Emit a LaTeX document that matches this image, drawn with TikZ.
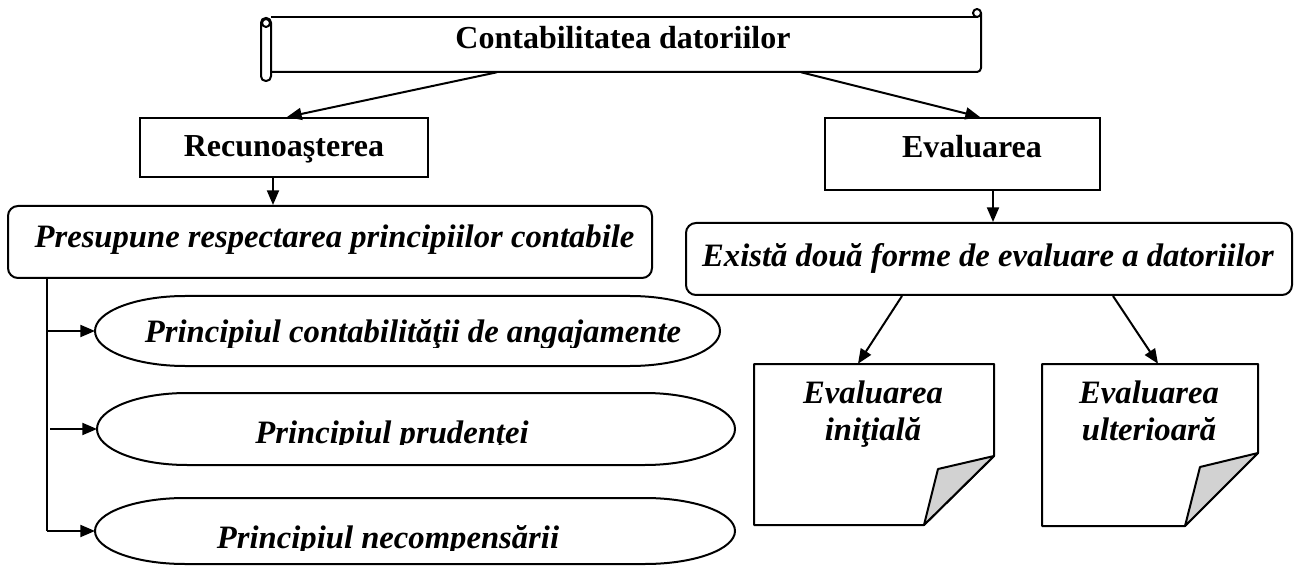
\documentclass[tikz,border=0pt]{standalone}
\usepackage{fontspec}
\setmainfont{Liberation Serif}
\usetikzlibrary{arrows.meta,fit}
\begin{document}
\begin{tikzpicture}[x=0.75pt,y=-0.75pt,
  ln/.style={line width=1.5pt,line join=round},
  arr/.style={ln,-{Triangle[length=11pt,width=9pt]}},
  frame/.style={draw,line width=1.5pt,inner sep=0pt},
  bt/.style={font=\fontsize{24}{28}\selectfont\bfseries,anchor=base,inner sep=0pt},
  it/.style={font=\fontsize{24.5}{29}\selectfont\bfseries\itshape,anchor=base,inner sep=0pt},
  oval/.style={ln,draw}]
\useasboundingbox (0,0) rectangle (1298,566);
% helper x positions
\coordinate (s1) at (497,0);
\coordinate (t1) at (287,0);
\coordinate (s2) at (801,0);
\coordinate (t2) at (980,0);
\coordinate (xr) at (273,0);
\coordinate (xe) at (993,0);
\coordinate (r1) at (902,0);
\coordinate (q1) at (858,0);
\coordinate (r2) at (1113,0);
\coordinate (q2) at (1158,0);
\coordinate (v) at (47,0);
\coordinate (v2) at (50,0);
% scroll title
\node[fit={(261,17)(981,72)},inner sep=0pt] (ttl) {};
\draw[ln,rounded corners=3pt] (271,72) -- (981,72) -- (981,13);
\draw[ln] (271,17) -- (977,17);
\draw[ln] (977,13) circle[radius=3pt];
\draw[ln,fill=white,rounded corners=3.5pt] (261,18) rectangle (271,81);
\draw[ln] (266,23) circle[radius=3pt];
\node[bt] (ttlt) at (623,49) {Contabilitatea datoriilor};
% boxes
\node[frame,fit={(140,118)(428,177)}] (rec) {};
\node[bt] (rect) at (284,157) {Recunoaşterea};
\node[frame,fit={(825,118)(1100,190)}] (eva) {};
\node[bt] (evat) at (972,158) {Evaluarea};
\node[frame,rounded corners=7.5pt,fit={(8,206)(652,278)}] (pre) {};
\node[it] (pret) at (334.5,248) {Presupune respectarea principiilor contabile};
\node[frame,rounded corners=7.5pt,fit={(686,223)(1292,295)}] (ex) {};
\node[it] (ext) at (988,267) {Există două forme de evaluare a datoriilor};
% arrows
\draw[arr] (ttl.south -| s1) -- (rec.north -| t1);
\draw[arr] (ttl.south -| s2) -- (eva.north -| t2);
\draw[arr] (rec.south -| xr) -- (pre.north -| xr);
\draw[arr] (eva.south -| xe) -- (ex.north -| xe);
% ovals
\coordinate (e1w) at (95,331);
\coordinate (e2w) at (97,429);
\coordinate (e3w) at (95,531);
\draw[oval] (185,296) -- (630,296) arc[start angle=-90,end angle=90,x radius=90,y radius=35] -- (185,366) arc[start angle=90,end angle=270,x radius=90,y radius=35] -- cycle;
\draw[oval] (187,393) -- (645,393) arc[start angle=-90,end angle=90,x radius=90,y radius=36] -- (187,465) arc[start angle=90,end angle=270,x radius=90,y radius=36] -- cycle;
\draw[oval] (185,498) -- (645,498) arc[start angle=-90,end angle=90,x radius=90,y radius=33] -- (185,564) arc[start angle=90,end angle=270,x radius=90,y radius=33] -- cycle;
\begin{scope}
\clip (0,0) rectangle (1298,347);
\node[it] (e1t) at (413,343) {Principiul contabilităţii de angajamente};
\end{scope}
\begin{scope}
\clip (0,0) rectangle (1298,444);
\node[it] (e2t) at (392,443) {Principiul prudenţei};
\end{scope}
\begin{scope}
\clip (0,0) rectangle (1298,550);
\node[it] (e3t) at (388,548) {Principiul necompensării};
\end{scope}
% branch line
\draw[ln] (pre.south -| v) -- (v |- e3w);
\draw[arr] (v |- e1w) -- (e1w);
\draw[arr] (v2 |- e2w) -- (e2w);
\draw[arr] (v |- e3w) -- (e3w);
% pages
\node[fit={(754,364)(994,525)},inner sep=0pt] (pg1) {};
\draw[ln,fill=white] (754,364) -- (994,364) -- (994,456) -- (924,525) -- (754,525) -- cycle;
\draw[ln,fill=gray!35] (994,456) -- (938,469) -- (924,525) -- cycle;
\node[it] (p1a) at (873,403) {Evaluarea};
\node[it] (p1b) at (873,440) {iniţială};
\node[fit={(1042,364)(1258,526)},inner sep=0pt] (pg2) {};
\draw[ln,fill=white] (1042,364) -- (1258,364) -- (1258,453) -- (1185,526) -- (1042,526) -- cycle;
\draw[ln,fill=gray!35] (1258,453) -- (1200,467) -- (1185,526) -- cycle;
\node[it] (p2a) at (1149,403) {Evaluarea};
\node[it] (p2b) at (1149,440) {ulterioară};
\draw[arr] (ex.south -| r1) -- (pg1.north -| q1);
\draw[arr] (ex.south -| r2) -- (pg2.north -| q2);
\end{tikzpicture}
\end{document}
